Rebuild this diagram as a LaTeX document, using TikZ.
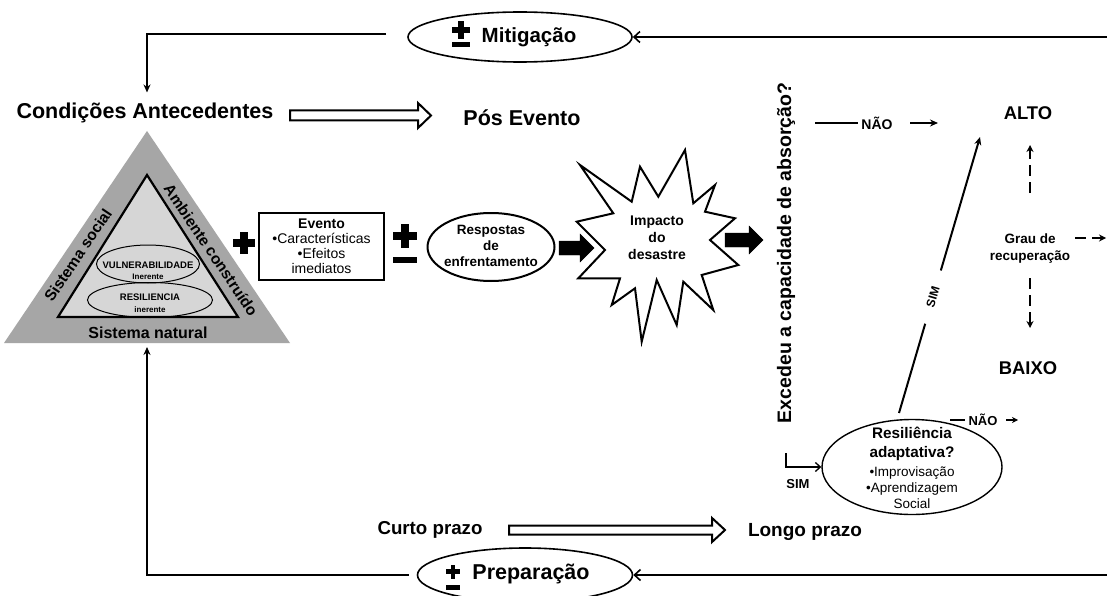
\documentclass[tikz,border=0pt]{standalone}
\usepackage{fontspec}
\setmainfont{Liberation Sans}
\usetikzlibrary{arrows.meta,shapes.geometric,calc}
\newcommand{\fsz}[2]{\fontsize{#1pt}{#2pt}\selectfont}
\newcommand{\blockarr}[6]{%
  \draw[#1] (#2) ++(0,-#4) -- ++({#3-#6},0) -- ++(0,{#4-#5}) -- ++(#6,#5) -- ++(-#6,#5) -- ++(0,{#4-#5}) -- ++({#6-#3},0) -- cycle;}
\definecolor{tout}{HTML}{A6A6A6}
\definecolor{tin}{HTML}{D6D6D6}
\tikzset{pics/plusmark/.style={code={\fill (-1,-0.34) rectangle (1,0.34); \fill (-0.34,-1) rectangle (0.34,1);}}}
\begin{document}
\begin{tikzpicture}[x=1pt,y=-1pt,
  conn/.style={line width=2pt},
  ell/.style={draw, ellipse, line width=1.6pt, inner sep=0pt},
  bold/.style={font=\bfseries\fsz{#1}{#1}},
  openarr/.style={-{Straight Barb[length=6pt,width=11pt,line width=1.6pt]}},
  fillarr/.style={-{Stealth[length=8pt,width=7pt]}},
  dasharr/.style={line width=2pt, dash pattern=on 11pt off 6pt, -{Stealth[length=7pt,width=7pt]}},
  hollow/.style={draw, line width=2pt, fill=white},
  blk/.style={fill=black}]
\useasboundingbox (0,0) rectangle (1107,596);
\fill[white] (0,0) rectangle (1107,596);

% ---------- triangle ----------
\fill[tout] (147,131) -- (290,343) -- (4,343) -- cycle;
\draw[line width=2.2pt, fill=tin] (147,175) -- (238,317) -- (58,317) -- cycle;
\node[ell, line width=1pt, minimum width=103pt, minimum height=38pt] (vul) at (148,264) {};
\node[ell, line width=1pt, minimum width=125pt, minimum height=35pt] (resi) at (150,300) {};
\node[bold=9.5] (vultxt) at (148,265) {VULNERABILIDADE};
\node[bold=8] (vulin) at (148,277) {Inerente};
\node[bold=9.5] (restxt) at (150,297) {RESILIENCIA};
\node[bold=8] (resin) at (150,310) {inerente};
\node[bold=15.5, rotate=56] (ssoc) at (78,255) {Sistema social};
\node[bold=15.5, rotate=-56] (amb) at (211,250) {Ambiente construído};
\node[bold=16] (snat) at (148,333) {Sistema natural};
\coordinate (tribase) at (147,347);

% ---------- top row ----------
\node[bold=21.5] (cond) at (145,113) {Condições Antecedentes};
\node[bold=21.5] (pos) at (522,118) {Pós Evento};
\blockarr{hollow}{290,115.5}{141}{5}{12.5}{13}

\node[ell, minimum width=224pt, minimum height=50pt] (mit) at (520,37) {};
\node[bold=20.5] (mittxt) at (529,37) {Mitigação};
\pic[scale=9] at (461,30) {plusmark};
\fill (452,42) rectangle (470,47);
\coordinate (rt) at (1107,37);
\draw[conn, openarr] (rt) -- (mit.east);
\draw[conn, fillarr] ($(mit.west)+(-21,-3)$) -| ([xshift=2pt,yshift=7pt]cond.north);

% ---------- middle row ----------
\pic[scale=11] at (244,243) {plusmark};
\node[draw, line width=2pt, minimum width=125pt, minimum height=67pt, align=center, font=\fsz{14}{15}, inner sep=0pt] (evt) at (321.5,246.5) {\textbf{Evento}\\•Características\\•Efeitos\\imediatos};
\pic[scale=12] at (405,236) {plusmark};
\fill (393,257) rectangle (417,263);
\node[ell, line width=2pt, minimum width=127pt, minimum height=68pt] (resp) at (491,247) {};
\node[align=center, font=\bfseries\fsz{13.5}{16}] (resptxt) at (491,246) {Respostas\\de\\enfrentamento};
\blockarr{blk}{559,248}{35}{7}{14}{14}

\draw[line width=2pt, fill=white, line join=miter]
  (580,165) -- (631.7,201.7) -- (640,166.7) -- (658.3,196.7) -- (685,150) -- (693.3,203.3)
  -- (715,185) -- (705,211.7) -- (735,218.3) -- (710,240) -- (738.3,265) -- (701.7,275)
  -- (713.3,310) -- (683.3,281.7) -- (676.7,325) -- (656.7,280) -- (641.7,341.7) -- (635,288.3)
  -- (611.7,305) -- (620,278.3) -- (578.3,278.3) -- (605,250) -- (576.7,221.7) -- (613.3,213.3) -- cycle;
\node[align=center, font=\bfseries\fsz{14}{17}] (imp) at (657,238) {Impacto\\do\\desastre};
\blockarr{blk}{725,240}{38}{7}{14}{14}

\node[bold=19.5, rotate=90] (exc) at (786,253) {Excedeu a capacidade de absorção?};

% ---------- right part ----------
\node[bold=14] (nao1) at (877,123) {NÃO};
\coordinate (n1a) at (815,123);
\coordinate (n1b) at (910,123);
\coordinate (n1c) at (938,123);
\draw[conn] (n1a) -- (nao1.west);
\draw[conn, fillarr] (n1b) -- (n1c);

\node[bold=18.4] (alto) at (1028,113) {ALTO};
\node[bold=18.4] (baixo) at (1028,368) {BAIXO};
\node[align=center, font=\bfseries\fsz{13.5}{17}] (grau) at (1030,248.5) {Grau de\\recuperação};
\coordinate (gu1) at (1030,193);
\coordinate (gu2) at (1030,145);
\coordinate (gd1) at (1030,278);
\coordinate (gd2) at (1030,328);
\coordinate (gr1) at (1075,238);
\coordinate (gr2) at (1106,238);
\draw[dasharr] (gu1) -- (gu2);
\draw[dasharr] (gd1) -- (gd2);
\draw[dasharr] (gr1) -- (gr2);

\node[ell, line width=1.4pt, minimum width=180pt, minimum height=95pt] (res) at (912,467) {};
\node[align=center, font=\fsz{13.5}{16}] (restx) at (912,468) {{\bfseries\fsz{15.3}{16}Resiliência}\\[3pt]{\bfseries\fsz{15.3}{16}adaptativa?}\\[3pt]•Improvisação\\•Aprendizagem\\Social};

\coordinate (simA) at (899,413);
\coordinate (simB) at (980,137);
\draw[conn, fillarr] (simA) -- node[pos=0.42, sloped, fill=white, inner xsep=17pt, inner ysep=1pt, bold=12] (simlbl) {SIM} (simB);

\node[bold=13] (nao2) at (983,420) {NÃO};
\coordinate (n2a) at (950,420);
\coordinate (n2b) at (1006,420);
\coordinate (n2c) at (1018,420);
\draw[conn] (n2a) -- (nao2.west);
\draw[conn, -{Stealth[length=6pt,width=6pt]}] (n2b) -- (n2c);

\coordinate (simL) at (786,453);
\draw[line width=1.3pt, -{Straight Barb[length=5pt,width=9pt,line width=1.3pt]}] (simL) |- (res.west);
\node[bold=13] (simlow) at (798,484) {SIM};

% ---------- bottom row ----------
\node[bold=18.7] (curto) at (430,530) {Curto prazo};
\node[bold=19] (longo) at (805,532) {Longo prazo};
\blockarr{hollow}{509,530}{216}{4.5}{12}{13}

\node[ell, minimum width=215pt, minimum height=54pt] (prep) at (525,575) {};
\node[bold=21.5] (preptxt) at (531,574) {Preparação};
\pic[scale=7] at (453,571.5) {plusmark};
\fill (446,585) rectangle (460,590);
\coordinate (rb) at (1107,575);
\draw[conn, openarr] (rb) -- (prep.east);
\draw[conn, fillarr] ($(prep.west)+(-8,0)$) -| (tribase);
\end{tikzpicture}
\end{document}
